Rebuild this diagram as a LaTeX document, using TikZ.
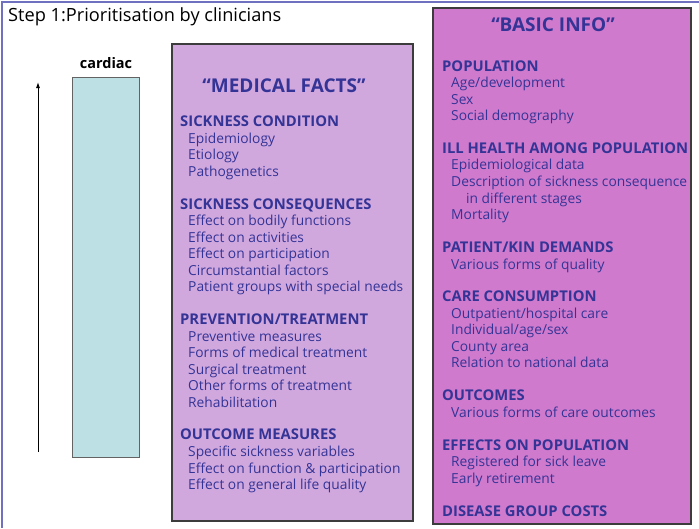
\documentclass[tikz,border=0pt]{standalone}
\usepackage{fontspec}
\setmainfont{Open Sans}
\usetikzlibrary{arrows.meta}
\definecolor{framecol}{RGB}{112,112,192}
\definecolor{basicfill}{RGB}{208,122,205}
\definecolor{factsfill}{RGB}{209,168,222}
\definecolor{cardiacfill}{RGB}{188,224,227}
\definecolor{inkblue}{RGB}{52,52,150}
\definecolor{boxline}{RGB}{60,60,60}
\tikzset{
  panel/.style={draw=boxline, line width=1.2pt},
  heading/.style={anchor=base west, yshift=-5pt, inner sep=0pt, text=inkblue, font=\fontsize{14.8}{16}\selectfont\bfseries},
  item/.style={anchor=base west, yshift=-5pt, inner sep=0pt, text=inkblue, font=\fontsize{13.8}{16}\selectfont},
  boxtitle/.style={inner sep=0pt, text=inkblue, font=\fontsize{19}{22}\selectfont\bfseries},
}
\begin{document}
\begin{tikzpicture}[x=1pt, y=-1pt]
\useasboundingbox (0,0) rectangle (699,528);
\fill[white] (0,0) rectangle (699,528);
% slide frame (top and left edges)
\draw[framecol, line width=2pt] (1.5,528) -- (1.5,1.5) -- (699,1.5);

% title
\node[anchor=base west, inner sep=0pt, font=\fontsize{18.2}{20}\selectfont] (title) at (8,21) {Step 1:Prioritisation by clinicians};

% cardiac column with upward arrow
\node[anchor=base, inner sep=0pt, font=\fontsize{14.5}{16}\selectfont\bfseries] (cardiac) at (106,68) {cardiac};
\draw[fill=cardiacfill, draw=boxline!80, line width=1pt] (72,77) rectangle (139,457);
\coordinate (arrowlow) at (38,452);
\coordinate (arrowhigh) at (38,82);
\draw[-{Latex[length=6pt,width=4pt]}, line width=0.9pt] (arrowlow) -- (arrowhigh);

% medical facts panel
\draw[panel, fill=factsfill] (172,44) rectangle (413,521);
\node[boxtitle] (mf) at (284,86) {``MEDICAL FACTS''};
\node[heading] (sc) at (180,121) {SICKNESS CONDITION};
\node[item] (sc1) at (188,138) {Epidemiology};
\node[item] (sc2) at (188,154.5) {Etiology};
\node[item] (sc3) at (188,171) {Pathogenetics};
\node[heading] (sq) at (180,204) {SICKNESS CONSEQUENCES};
\node[item] (sq1) at (188,220) {Effect on bodily functions};
\node[item] (sq2) at (188,237) {Effect on activities};
\node[item] (sq3) at (188,253) {Effect on participation};
\node[item] (sq4) at (188,270) {Circumstantial factors};
\node[item] (sq5) at (188,286) {Patient groups with special needs};
\node[heading] (pt) at (180,319) {PREVENTION/TREATMENT};
\node[item] (pt1) at (188,336) {Preventive measures};
\node[item] (pt2) at (188,352) {Forms of medical treatment};
\node[item] (pt3) at (188,369) {Surgical treatment};
\node[item] (pt4) at (188,385) {Other forms of treatment};
\node[item] (pt5) at (188,402) {Rehabilitation};
\node[heading] (om) at (180,434) {OUTCOME MEASURES};
\node[item] (om1) at (188,451) {Specific sickness variables};
\node[item] (om2) at (188,468) {Effect on function \& participation};
\node[item] (om3) at (188,484) {Effect on general life quality};

% basic info panel
\draw[panel, fill=basicfill] (433,8) rectangle (691,524);
\node[boxtitle] (bi) at (553,25) {``BASIC INFO''};
\node[heading] (po) at (442,66) {POPULATION};
\node[item] (po1) at (451,82) {Age/development};
\node[item] (po2) at (451,99) {Sex};
\node[item] (po3) at (451,115) {Social demography};
\node[heading] (ih) at (442,148) {ILL HEALTH AMONG POPULATION};
\node[item] (ih1) at (451,164) {Epidemiological data};
\node[item] (ih2) at (451,181) {Description of sickness consequence};
\node[item] (ih3) at (466,198) {in different stages};
\node[item] (ih4) at (451,214) {Mortality};
\node[heading] (pk) at (442,247) {PATIENT/KIN DEMANDS};
\node[item] (pk1) at (451,264) {Various forms of quality};
\node[heading] (cc) at (442,296) {CARE CONSUMPTION};
\node[item] (cc1) at (451,313) {Outpatient/hospital care};
\node[item] (cc2) at (451,329) {Individual/age/sex};
\node[item] (cc3) at (451,346) {County area};
\node[item] (cc4) at (451,362) {Relation to national data};
\node[heading] (oc) at (442,395) {OUTCOMES};
\node[item] (oc1) at (451,412) {Various forms of care outcomes};
\node[heading] (ep) at (442,445) {EFFECTS ON POPULATION};
\node[item] (ep1) at (451,461) {Registered for sick leave};
\node[item] (ep2) at (451,478) {Early retirement};
\node[heading] (dg) at (442,511) {DISEASE GROUP COSTS};
\end{tikzpicture}
\end{document}
